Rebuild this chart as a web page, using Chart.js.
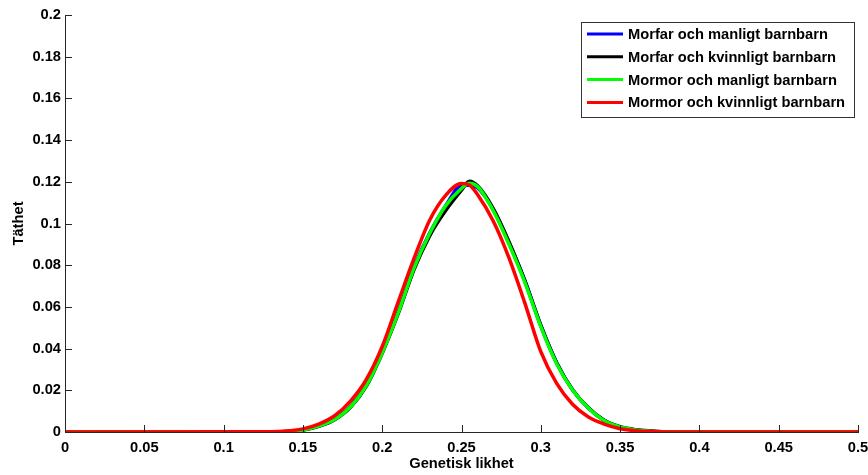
<!DOCTYPE html>
<html lang="sv">
<head>
<meta charset="UTF-8">
<title>Genetisk likhet</title>
<style>
    html, body { margin: 0; padding: 0; background: #fff; }
    #wrap { width: 868px; height: 475px; }
</style>
<script src="https://cdn.jsdelivr.net/npm/chart.js"></script>
</head>
<body>
<div id="wrap"><canvas id="chart" width="868" height="475"></canvas></div>
<script>
// x-värden (genetisk likhet) och täthet för varje par
const xValues = [0, 0.13, 0.14, 0.15, 0.16, 0.17, 0.18, 0.19, 0.20, 0.21, 0.22, 0.23, 0.24, 0.25, 0.255,
    0.26, 0.27, 0.28, 0.29, 0.30, 0.31, 0.32, 0.33, 0.34, 0.35, 0.36, 0.37, 0.38, 0.5];

const morfarManligt = [0, 0, 0.0003, 0.001, 0.0029, 0.0062, 0.0122, 0.0226, 0.0385, 0.0575, 0.0790, 0.0955, 0.1085, 0.1182, 0.1183,
    0.1172, 0.1068, 0.0905, 0.0725, 0.0512, 0.0332, 0.0203, 0.0115, 0.0055, 0.0023, 0.0009, 0.0003, 0, 0];
const morfarKvinnligt = [0, 0, 0.0003, 0.0009, 0.0027, 0.0059, 0.0118, 0.0220, 0.0378, 0.0566, 0.0778, 0.0942, 0.1062, 0.1160, 0.1203,
    0.1182, 0.1072, 0.0912, 0.0724, 0.0510, 0.0331, 0.0203, 0.0116, 0.0056, 0.0025, 0.0011, 0.0005, 0.0001, 0];
const mormorManligt = [0, 0, 0.0003, 0.001, 0.0028, 0.0060, 0.0120, 0.0222, 0.0380, 0.0570, 0.0785, 0.0953, 0.1085, 0.1168, 0.1193,
    0.1178, 0.1062, 0.0899, 0.0717, 0.0505, 0.0327, 0.0201, 0.0115, 0.0055, 0.0024, 0.0010, 0.0003, 0, 0];
const mormorKvinnligt = [0, 0.0001, 0.0005, 0.0015, 0.0038, 0.0078, 0.0148, 0.0252, 0.0410, 0.0622, 0.0831, 0.1017, 0.1135, 0.1192, 0.1185,
    0.1140, 0.1012, 0.0834, 0.0617, 0.0385, 0.0233, 0.0133, 0.0072, 0.0038, 0.0016, 0.0006, 0.0002, 0, 0];

const seriesNames = ['Morfar och manligt barnbarn', 'Morfar och kvinnligt barnbarn',
    'Mormor och manligt barnbarn', 'Mormor och kvinnligt barnbarn'];
const seriesColors = ['#0000ff', '#000000', '#00ff00', '#ff0000'];

const xTickLabels = ['0', '0.05', '0.1', '0.15', '0.2', '0.25', '0.3', '0.35', '0.4', '0.45', '0.5'];
const yTickLabels = ['0', '0.02', '0.04', '0.06', '0.08', '0.1', '0.12', '0.14', '0.16', '0.18', '0.2'];

const FONT = { family: '"Liberation Sans", Arial, sans-serif', size: 14.7, weight: 'bold' };
const AXIS_COLOR = '#262626';

function toPoints(ys) {
    return xValues.map((x, i) => ({ x: x, y: ys[i] }));
}

const allSeries = [morfarManligt, morfarKvinnligt, mormorManligt, mormorKvinnligt];

// röd kurva överst, sedan grön, svart, blå
const datasets = allSeries.map((ys, i) => ({
    label: seriesNames[i],
    data: toPoints(ys),
    borderColor: seriesColors[i],
    backgroundColor: seriesColors[i],
    borderWidth: 3.5,
    pointRadius: 0,
    cubicInterpolationMode: 'monotone',
    order: 4 - i
}));

// tickmarkeringar som pekar in i diagrammet
const innerTicks = {
    id: 'innerTicks',
    afterDraw(chart) {
        const ctx = chart.ctx;
        const area = chart.chartArea;
        const xs = chart.scales.x, ys = chart.scales.y;
        ctx.save();
        ctx.strokeStyle = AXIS_COLOR;
        ctx.lineWidth = 1;
        ctx.beginPath();
        xs.ticks.forEach(t => {
            const px = Math.round(xs.getPixelForValue(t.value)) + 0.5;
            ctx.moveTo(px, area.bottom);
            ctx.lineTo(px, area.bottom - 7);
        });
        ys.ticks.forEach(t => {
            const py = Math.round(ys.getPixelForValue(t.value)) + 0.5;
            ctx.moveTo(area.left, py);
            ctx.lineTo(area.left + 7, py);
        });
        ctx.stroke();
        ctx.restore();
    }
};

// förklaringsruta uppe till höger
const legendBox = {
    id: 'legendBox',
    afterDraw(chart) {
        const ctx = chart.ctx;
        const area = chart.chartArea;
        const w = 273, h = 95;
        const left = area.right - 4 - w, top = area.top + 7;
        ctx.save();
        ctx.fillStyle = '#fff';
        ctx.fillRect(left, top, w, h);
        ctx.strokeStyle = '#333';
        ctx.lineWidth = 1;
        ctx.strokeRect(left + 0.5, top + 0.5, w, h);
        ctx.font = 'bold 14.7px "Liberation Sans", Arial, sans-serif';
        ctx.textBaseline = 'middle';
        chart.data.datasets.forEach((ds, i) => {
            const y = top + 12 + i * 22.8;
            ctx.strokeStyle = ds.borderColor;
            ctx.lineWidth = 3;
            ctx.beginPath();
            ctx.moveTo(left + 6, y);
            ctx.lineTo(left + 42, y);
            ctx.stroke();
            ctx.fillStyle = '#000';
            ctx.fillText(ds.label, left + 47, y + 1);
        });
        ctx.restore();
    }
};

new Chart(document.getElementById('chart'), {
    type: 'line',
    data: { datasets: datasets },
    options: {
        responsive: false,
        animation: false,
        devicePixelRatio: 1,
        layout: { padding: { top: 15, right: 10, left: 0, bottom: 0 } },
        scales: {
            x: {
                type: 'linear',
                min: 0,
                max: 0.5,
                grid: { display: false, drawTicks: false },
                border: { display: true, color: AXIS_COLOR, width: 1 },
                ticks: {
                    stepSize: 0.05,
                    autoSkip: false,
                    maxRotation: 0,
                    padding: 7,
                    color: '#000',
                    font: FONT,
                    callback: (v, i) => xTickLabels[i]
                },
                title: {
                    display: true,
                    text: 'Genetisk likhet',
                    color: '#000',
                    font: FONT,
                    padding: { top: 0, bottom: 2 }
                },
                afterFit(scale) {
                    scale.height = 43;
                    scale.paddingLeft = 0;
                    scale.paddingRight = 0;
                }
            },
            y: {
                min: 0,
                max: 0.2,
                grid: { display: false, drawTicks: false },
                border: { display: true, color: AXIS_COLOR, width: 1 },
                ticks: {
                    stepSize: 0.02,
                    padding: 4,
                    color: '#000',
                    font: FONT,
                    callback: (v, i) => yTickLabels[i]
                },
                title: {
                    display: true,
                    text: 'Täthet',
                    color: '#000',
                    font: FONT,
                    padding: { top: 10, bottom: 0 }
                },
                afterFit(scale) {
                    scale.width = 65;
                    scale.paddingTop = 0;
                    scale.paddingBottom = 0;
                }
            }
        },
        plugins: {
            legend: { display: false },
            tooltip: { enabled: false }
        }
    },
    plugins: [innerTicks, legendBox]
});
</script>
</body>
</html>
